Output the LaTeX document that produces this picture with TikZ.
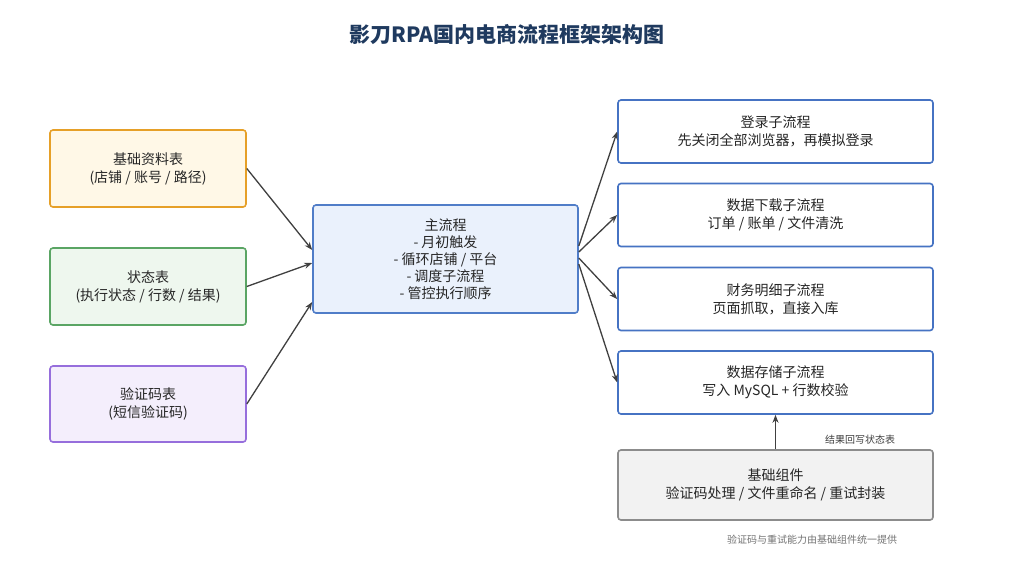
\documentclass[tikz,border=0pt]{standalone}
\usepackage{fontspec}
\setmainfont{Noto Sans CJK SC}
\usetikzlibrary{arrows.meta}
\definecolor{navy}{HTML}{1F3A5F}
\tikzset{
 box/.style={draw, rounded corners=3pt, line width=1.6pt, align=center, font=\fontsize{14}{18}\selectfont, text=black!85},
 arr/.style={-{Stealth[length=8pt,width=6pt]}, line width=1.3pt, draw=black!75},
}
\begin{document}
\begin{tikzpicture}[x=1pt,y=-1pt]
\useasboundingbox[fill=white] (0,0) rectangle (1015,574);
\node[font=\bfseries\fontsize{21}{25}\selectfont, text=navy] (title) at (507,35) {影刀RPA国内电商流程框架架构图};
\node[box, draw={rgb,255:red,230;green,160;blue,40}, fill={rgb,255:red,255;green,248;blue,231}, minimum width=196pt, minimum height=77pt] (b1) at (148,168.5) {基础资料表\\(店铺 / 账号 / 路径)};
\node[box, draw={rgb,255:red,90;green,165;blue,100}, fill={rgb,255:red,238;green,247;blue,238}, minimum width=196pt, minimum height=77pt] (b2) at (148,286.5) {状态表\\(执行状态 / 行数 / 结果)};
\node[box, draw={rgb,255:red,150;green,110;blue,220}, fill={rgb,255:red,244;green,238;blue,252}, minimum width=196pt, minimum height=76pt] (b3) at (148,404) {验证码表\\(短信验证码)};
\node[box, draw={rgb,255:red,80;green,125;blue,200}, fill={rgb,255:red,234;green,241;blue,252}, minimum width=265pt, minimum height=108pt, font=\fontsize{14}{17}\selectfont] (main) at (445.5,259) {主流程\\- 月初触发\\- 循环店铺 / 平台\\- 调度子流程\\- 管控执行顺序};
\tikzset{rb/.style={box, draw={rgb,255:red,70;green,115;blue,195}, fill=white, minimum width=315pt, minimum height=63pt}}
\node[rb] (r1) at (775.5,131.5) {登录子流程\\先关闭全部浏览器，再模拟登录};
\node[rb] (r2) at (775.5,215) {数据下载子流程\\订单 / 账单 / 文件清洗};
\node[rb] (r3) at (775.5,299) {财务明细子流程\\页面抓取，直接入库};
\node[rb] (r4) at (775.5,382.5) {数据存储子流程\\写入 MySQL + 行数校验};
\node[box, draw=black!45, fill=black!5, minimum width=315pt, minimum height=70pt] (base) at (775.5,485) {基础组件\\验证码处理 / 文件重命名 / 重试封装};
\draw[arr] (b1.east) -- (main.west |- 0,250);
\draw[arr] (b2.east) -- (main.west |- 0,263);
\draw[arr] (b3.east) -- (main.west |- 0,302);
\draw[arr] (main.east |- 0,246) -- (r1.west);
\draw[arr] (main.east |- 0,252) -- (r2.west);
\draw[arr] (main.east |- 0,258) -- (r3.west);
\draw[arr] (main.east |- 0,264) -- (r4.west);
\draw[arr] (base.north) -- (r4.south);
\node[font=\fontsize{10}{12}\selectfont, text=black!75] (lbl) at (860,440) {结果回写状态表};
\node[font=\fontsize{10}{12}\selectfont, text=black!55] (note) at (812,540) {验证码与重试能力由基础组件统一提供};
\end{tikzpicture}
\end{document}
